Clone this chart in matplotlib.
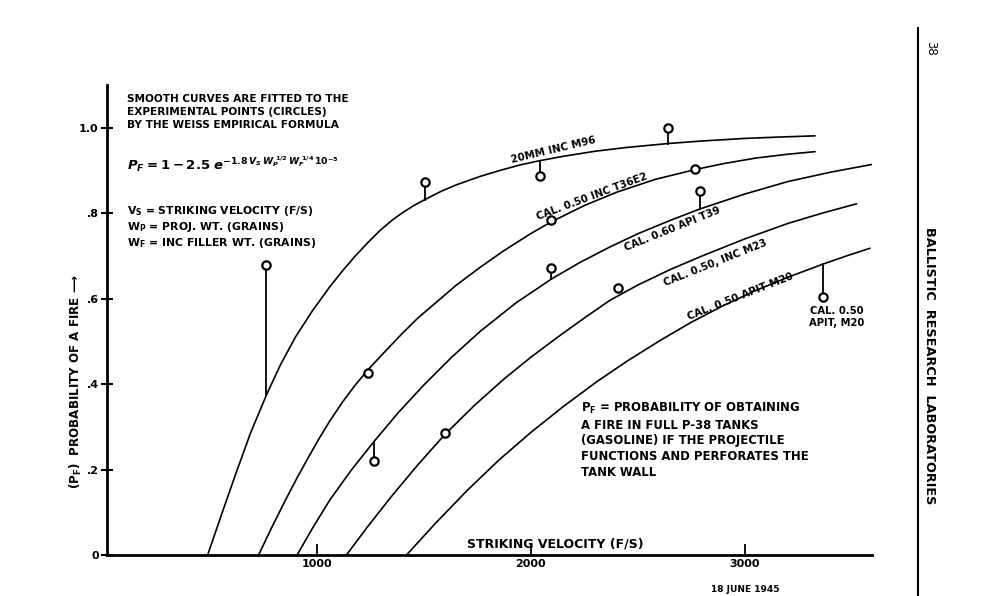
import matplotlib
matplotlib.use("Agg")
import matplotlib.pyplot as plt

# ---------------- data ----------------
# Curve: 20MM INC M96
v_m96 = [490, 560, 620, 690, 765, 830, 900, 980, 1061, 1120, 1180, 1240, 1294, 1350, 1400,
         1450, 1505, 1580, 1650, 1762, 1855, 1950, 2042, 2150, 2300, 2450, 2640, 2800, 3000,
         3150, 3327]
p_m96 = [0.0, 0.102, 0.188, 0.285, 0.375, 0.445, 0.51, 0.572, 0.628, 0.665, 0.70, 0.732, 0.759,
         0.783, 0.801, 0.817, 0.832, 0.851, 0.866, 0.886, 0.900, 0.913, 0.923, 0.933, 0.945,
         0.954, 0.963, 0.969, 0.975, 0.978, 0.981]
# Curve: CAL. 0.50 INC T36E2
v_t36 = [728, 790, 850, 905, 960, 1010, 1061, 1120, 1180, 1238, 1320, 1400, 1475, 1550, 1650,
         1762, 1870, 1995, 2096, 2250, 2400, 2580, 2766, 2900, 3050, 3200, 3327]
p_t36 = [0.0, 0.065, 0.125, 0.178, 0.228, 0.272, 0.314, 0.358, 0.398, 0.433, 0.477, 0.519,
         0.556, 0.588, 0.631, 0.673, 0.711, 0.751, 0.78, 0.818, 0.849, 0.879, 0.902, 0.916,
         0.929, 0.938, 0.944]
# Curve: CAL. 0.60 API T39
v_t39 = [908, 980, 1061, 1160, 1266, 1380, 1500, 1630, 1762, 1930, 2096, 2230, 2369, 2500,
         2650, 2790, 3000, 3200, 3400, 3592]
p_t39 = [0.0, 0.063, 0.129, 0.198, 0.265, 0.333, 0.398, 0.463, 0.523, 0.59, 0.646, 0.685,
         0.721, 0.752, 0.783, 0.81, 0.845, 0.874, 0.896, 0.914]
# Curve: CAL. 0.50, INC M23
v_m23 = [1138, 1240, 1350, 1470, 1598, 1740, 1879, 2000, 2120, 2250, 2369, 2500, 2650, 2800,
         3000, 3200, 3360, 3521]
p_m23 = [0.0, 0.068, 0.138, 0.21, 0.282, 0.352, 0.414, 0.463, 0.508, 0.555, 0.596, 0.632,
         0.668, 0.70, 0.74, 0.776, 0.80, 0.822]
# Curve: CAL. 0.50 APIT M20
v_m20 = [1419, 1550, 1700, 1850, 2000, 2150, 2306, 2450, 2603, 2750, 2900, 3050, 3200, 3365,
         3480, 3584]
p_m20 = [0.0, 0.072, 0.15, 0.222, 0.287, 0.347, 0.405, 0.454, 0.502, 0.545, 0.584, 0.619,
         0.65, 0.681, 0.701, 0.718]

# Experimental points (circles) and where their leader stems meet a curve (None = on curve)
circ_v = [762, 1505, 2042, 2642, 1240, 2096, 2766, 1266, 2096, 2790, 1598, 2408, 3365]
circ_p = [0.679, 0.874, 0.886, 0.999, 0.425, 0.785, 0.903, 0.219, 0.671, 0.851, 0.285, 0.625, 0.605]
stem_p = [0.374, 0.832, 0.923, 0.963, None, None, None, 0.265, 0.646, 0.81, None, None, 0.681]

x_ticks = [1000, 2000, 3000]
x_ticklabels = ["1000", "2000", "3000"]
y_ticks = [0, 0.2, 0.4, 0.6, 0.8, 1.0]
y_ticklabels = ["0", ".2", ".4", ".6", ".8", "1.0"]

curve_labels = ["20MM INC M96", "CAL. 0.50 INC T36E2", "CAL. 0.60 API T39",
                "CAL. 0.50, INC M23", "CAL. 0.50 APIT M20"]

# ---------------- figure ----------------
plt.rcParams["font.family"] = ["DejaVu Sans"]
plt.rcParams["font.weight"] = "bold"

fig = plt.figure(figsize=(10, 5.96), dpi=100)
ax = fig.add_axes([0.107, 41 / 596, 0.765, 470 / 596])
ax.set_xlim(20, 3593)
ax.set_ylim(0, 1.10)

for s in ["top", "right"]:
    ax.spines[s].set_visible(False)
for s in ["left", "bottom"]:
    ax.spines[s].set_linewidth(2.0)
    ax.spines[s].set_color("black")

lk = dict(color="black", lw=1.2, solid_capstyle="round", solid_joinstyle="round")
for vv, pp in [(v_m96, p_m96), (v_t36, p_t36), (v_t39, p_t39), (v_m23, p_m23), (v_m20, p_m20)]:
    ax.plot(vv, pp, **lk)

for v, p, s in zip(circ_v, circ_p, stem_p):
    if s is not None:
        ax.plot([v, v], [p, s], color="black", lw=1.3)
ax.plot(circ_v, circ_p, linestyle="none", marker="o", ms=6, mfc="white",
        mec="black", mew=1.6, zorder=5)

ax.set_xticks(x_ticks)
ax.set_xticklabels(x_ticklabels, fontsize=8, fontweight="bold")
ax.set_yticks(y_ticks)
ax.set_yticklabels(y_ticklabels, fontsize=8, fontweight="bold")
ax.tick_params(axis="x", direction="in", length=8, width=1.3, pad=3)
ax.tick_params(axis="y", direction="inout", length=8, width=1.5, pad=2)

# curve labels
lab_kw = dict(fontsize=7.4, fontweight="bold", ha="center", va="center", rotation_mode="anchor")
ax.text(2103, 0.948, curve_labels[0], rotation=13.5, **lab_kw)
ax.text(2284, 0.839, curve_labels[1], rotation=20.5, **lab_kw)
ax.text(2659, 0.763, curve_labels[2], rotation=22, **lab_kw)
ax.text(2860, 0.684, curve_labels[3], rotation=21.8, **lab_kw)
ax.text(2980, 0.605, curve_labels[4], rotation=21.5, **lab_kw)
ax.text(3430, 0.557, "CAL. 0.50\nAPIT, M20", fontsize=7.2, fontweight="bold",
        ha="center", va="center", linespacing=1.25)

ax.text(2115, 0.025, "STRIKING VELOCITY (F/S)", fontsize=9, fontweight="bold",
        ha="center", va="center")

# text blocks
ax.text(112, 1.079, "SMOOTH CURVES ARE FITTED TO THE\nEXPERIMENTAL POINTS (CIRCLES)\nBY THE WEISS EMPIRICAL FORMULA",
        fontsize=7.6, fontweight="bold", ha="left", va="top", linespacing=1.4)
ax.text(112, 0.915, r"$P_F = 1 - 2.5\;e^{-1.8\,V_S\,W_P^{\ 1/2}\,W_F^{\ 1/4}\,10^{-5}}$",
        fontsize=9.5, ha="left", va="center")
ax.text(112, 0.822, "V$_\\mathbf{S}$ = STRIKING VELOCITY (F/S)\nW$_\\mathbf{P}$ = PROJ. WT. (GRAINS)\nW$_\\mathbf{F}$ = INC FILLER WT. (GRAINS)",
        fontsize=7.8, fontweight="bold", ha="left", va="top", linespacing=1.2)
ax.text(2234, 0.360, "P$_\\mathbf{F}$ = PROBABILITY OF OBTAINING\nA FIRE IN FULL P-38 TANKS\n(GASOLINE) IF THE PROJECTILE\nFUNCTIONS AND PERFORATES THE\nTANK WALL",
        fontsize=8.4, fontweight="bold", ha="left", va="top", linespacing=1.26)

# y-axis label
fig.text(0.076, 1 - 382 / 596, "(P$_\\mathbf{F}$)  PROBABILITY OF A FIRE \u27f6", rotation=90,
         fontsize=8.6, fontweight="bold", ha="center", va="center")

# page furniture
fig.add_artist(plt.Line2D([918 / 1000, 918 / 1000], [0, 1 - 28 / 596], color="black", lw=1.5))
fig.text(0.931, 1 - 48 / 596, "38", rotation=-90, fontsize=8.5, fontweight="normal",
         ha="center", va="center")
fig.text(0.930, 1 - 366 / 596, "BALLISTIC  RESEARCH  LABORATORIES", rotation=-90,
         fontsize=9.3, fontweight="bold", ha="center", va="center")
fig.text(0.745, 1 - 589 / 596, "18 JUNE 1945", fontsize=6.5, fontweight="bold",
         ha="center", va="center")

fig.savefig("out.png", dpi=100)
